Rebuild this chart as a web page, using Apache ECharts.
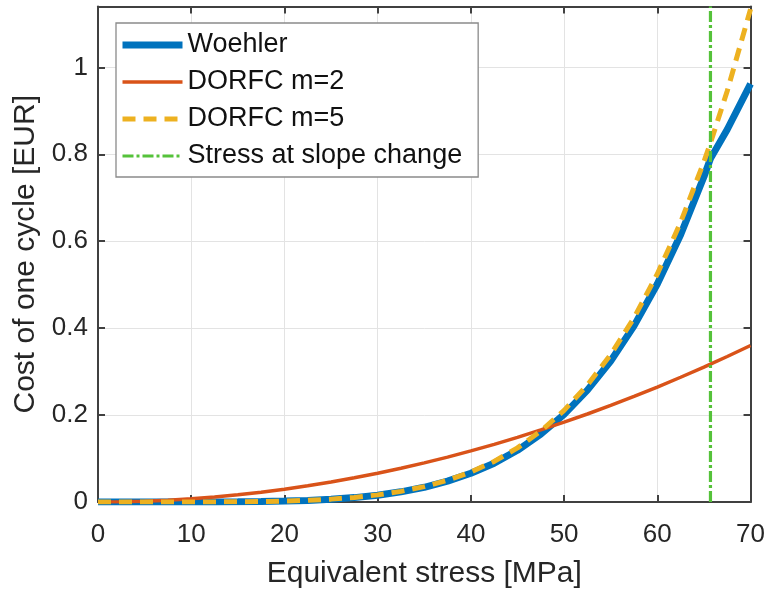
<!DOCTYPE html>
<html><head><meta charset="utf-8">
<script src="https://cdn.jsdelivr.net/npm/echarts@6/dist/echarts.min.js"></script>
<style>html,body{margin:0;padding:0;background:#fff}#c{width:768px;height:594px}</style>
</head><body><div id="c"></div>
<script>
var stress = [0,2.5,5,7.5,10,12.5,15,17.5,20,22.5,25,27.5,30,32.5,35,37.5,40,42.5,45,47.5,50,52.5,55,57.5,60,62.5,65,65.7,67.5,70];
var woehler = [0,0,0,0.00002,0.0001,0.0002,0.0005,0.0011,0.0021,0.0037,0.0063,0.0101,0.0157,0.0234,0.0338,0.0479,0.0661,0.0893,0.119,0.1561,0.2015,0.2573,0.3245,0.4051,0.5016,0.615,0.7484,0.79,0.857,0.962];
var dorfcM2 = [0,0.0005,0.0018,0.0041,0.0073,0.0115,0.0165,0.0225,0.0294,0.0372,0.0459,0.0556,0.0661,0.0776,0.09,0.1033,0.1176,0.1327,0.1488,0.1658,0.1837,0.2025,0.2222,0.2429,0.2645,0.287,0.3104,0.3174,0.3347,0.36];
var dorfcM5 = [0,0,0,0.00002,0.0001,0.0002,0.0005,0.0011,0.0022,0.0039,0.0066,0.0106,0.0164,0.0245,0.0354,0.0501,0.0691,0.0934,0.1245,0.1633,0.2108,0.2691,0.3394,0.4237,0.5247,0.6433,0.7828,0.826,0.9455,1.134];
var slopeChangeStress = 65.7;
var slopeLineY = [0, 1.14];
var seriesNames = ['Woehler','DORFC m=2','DORFC m=5','Stress at slope change'];
var xTicks = [0,10,20,30,40,50,60,70];
var yTicks = [0,0.2,0.4,0.6,0.8,1];

function pairs(xs, ys){ return xs.map(function(x,i){return [x, ys[i]];}); }
var FONT = '"Liberation Sans", Arial, Helvetica, sans-serif';
var TXT = '#262626';
var AX = '#404040';
var COLORS = ['#0072BD','#D95319','#EDB120','#55c23a'];
var WIDTHS = [7,3.5,5,3.2];
var TYPES = ['solid','solid',[13,8],[11,3,3,3]];
var chart = echarts.init(document.getElementById('c'), null, {renderer:'canvas'});
var axCommon = {
  axisLine:{show:true, onZero:false, lineStyle:{color:AX, width:2}},
  axisTick:{show:true, inside:true, length:7, lineStyle:{color:AX, width:2}},
};
chart.setOption({
  animation:false,
  backgroundColor:'#fff',
  textStyle:{fontFamily:FONT},
  grid:{left:98, top:6.5, right:16.5, bottom:90, containLabel:false},
  legend:{
    orient:'vertical', left:116, top:23,
    data:seriesNames.map(function(n,i){ return {name:n, itemStyle:{opacity:0},
      lineStyle:{width:WIDTHS[i], color:COLORS[i], type:TYPES[i]}}; }),
    itemStyle:{opacity:0},
    backgroundColor:'#fff', borderColor:'#8a8a8a', borderWidth:1.3, borderRadius:0,
    padding:[7,16,6,3], itemGap:7, itemWidth:60, itemHeight:14,
    textStyle:{color:'#111', fontSize:27, fontFamily:FONT, lineHeight:30}
  },
  xAxis:[
    Object.assign({type:'value', min:0, max:70, interval:10, position:'bottom',
      name:'Equivalent stress [MPa]', nameLocation:'middle', nameGap:57,
      nameTextStyle:{color:TXT, fontSize:30, fontFamily:FONT},
      axisLabel:{color:TXT, fontSize:26, margin:20, fontFamily:FONT},
      splitLine:{show:true, lineStyle:{color:'#e3e3e3', width:1}}}, axCommon),
    Object.assign({type:'value', min:0, max:70, interval:10, position:'top',
      axisLabel:{show:false}, splitLine:{show:false}}, axCommon)
  ],
  yAxis:[
    Object.assign({type:'value', min:0, max:1.14, interval:0.2, position:'left',
      name:'Cost of one cycle [EUR]', nameLocation:'middle', nameGap:50,
      nameTextStyle:{color:TXT, fontSize:30, fontFamily:FONT},
      axisLabel:{color:TXT, fontSize:26, margin:10, fontFamily:FONT,
        formatter:function(v){ for (var i=0;i<yTicks.length;i++){ if (Math.abs(v-yTicks[i])<1e-6) return String(yTicks[i]); } return ''; }},
      splitLine:{show:true, lineStyle:{color:'#e3e3e3', width:1}}}, axCommon),
    Object.assign({type:'value', min:0, max:1.14, interval:0.2, position:'right',
      axisLabel:{show:false}, splitLine:{show:false}}, axCommon)
  ],
  series:[
    {name:seriesNames[0], type:'line', data:pairs(stress, woehler), showSymbol:false, symbol:'none',
      lineStyle:{color:COLORS[0], width:WIDTHS[0]}, itemStyle:{color:COLORS[0]}, z:2},
    {name:seriesNames[1], type:'line', data:pairs(stress, dorfcM2), showSymbol:false, symbol:'none',
      lineStyle:{color:COLORS[1], width:WIDTHS[1]}, itemStyle:{color:COLORS[1]}, z:3},
    {name:seriesNames[2], type:'line', data:pairs(stress, dorfcM5), showSymbol:false, symbol:'none',
      lineStyle:{color:COLORS[2], width:WIDTHS[2], type:TYPES[2]}, itemStyle:{color:COLORS[2]}, z:4},
    {name:seriesNames[3], type:'line', data:[[slopeChangeStress, slopeLineY[0]],[slopeChangeStress, slopeLineY[1]]], showSymbol:false, symbol:'none',
      lineStyle:{color:COLORS[3], width:WIDTHS[3], type:TYPES[3]}, itemStyle:{color:COLORS[3]}, z:5}
  ]
});
</script></body></html>
